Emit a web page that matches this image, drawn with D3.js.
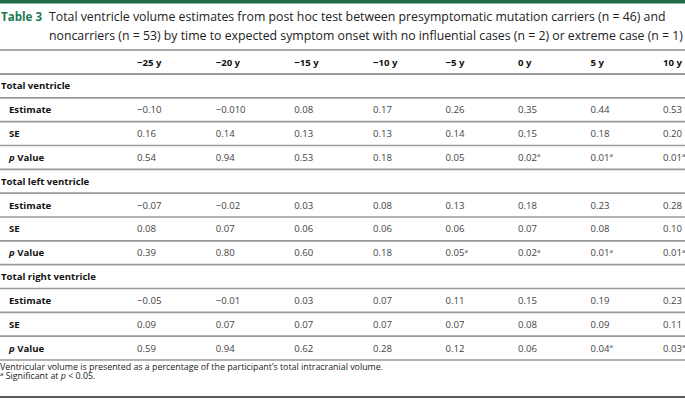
<html>
<head>
  <script src="https://d3js.org/d3.v7.min.js"></script>
  <style>
    body{ margin:0; background:#fff; }
    text{ font-family:"Open Sans", sans-serif; }
  </style>
</head>
<body>
<script>
var width = 685,
    height = 403;

// table content
var timepoints = ["\u221225 y", "\u221220 y", "\u221215 y", "\u221210 y", "\u22125 y", "0 y", "5 y", "10 y"];
var sections = ["Total ventricle", "Total left ventricle", "Total right ventricle"];
var rowLabels = ["Estimate", "SE", "p Value"];

var totalEstimate = ["\u22120.10", "\u22120.010", "0.08", "0.17", "0.26", "0.35", "0.44", "0.53"];
var totalSE       = ["0.16", "0.14", "0.13", "0.13", "0.14", "0.15", "0.18", "0.20"];
var totalP        = ["0.54", "0.94", "0.53", "0.18", "0.05", "0.02", "0.01", "0.01"];
var totalSig      = [false, false, false, false, false, true, true, true];

var leftEstimate = ["\u22120.07", "\u22120.02", "0.03", "0.08", "0.13", "0.18", "0.23", "0.28"];
var leftSE       = ["0.08", "0.07", "0.06", "0.06", "0.06", "0.07", "0.08", "0.10"];
var leftP        = ["0.39", "0.80", "0.60", "0.18", "0.05", "0.02", "0.01", "0.01"];
var leftSig      = [false, false, false, false, true, true, true, true];

var rightEstimate = ["\u22120.05", "\u22120.01", "0.03", "0.07", "0.11", "0.15", "0.19", "0.23"];
var rightSE       = ["0.09", "0.07", "0.07", "0.07", "0.07", "0.08", "0.09", "0.11"];
var rightP        = ["0.59", "0.94", "0.62", "0.28", "0.12", "0.06", "0.04", "0.03"];
var rightSig      = [false, false, false, false, false, false, true, true];

var titleLine1 = "Total ventricle volume estimates from post hoc test between presymptomatic mutation carriers (n = 46) and";
var titleLine2 = "noncarriers (n = 53) by time to expected symptom onset with no influential cases (n = 2) or extreme case (n = 1)";
var footnote1 = "Ventricular volume is presented as a percentage of the participant\u2019s total intracranial volume.";

// build the rows
var blocks = [
  [totalEstimate, totalSE, totalP, totalSig],
  [leftEstimate, leftSE, leftP, leftSig],
  [rightEstimate, rightSE, rightP, rightSig]
];
var rows = [];
sections.forEach(function(s, i){
  rows.push({ type: "section", label: s });
  rows.push({ type: "value", label: rowLabels[0], values: blocks[i][0] });
  rows.push({ type: "value", label: rowLabels[1], values: blocks[i][1] });
  rows.push({ type: "value", label: rowLabels[2], values: blocks[i][2], sig: blocks[i][3] });
});

var svg = d3.select("body")
  .append("svg")
  .attr("width", width)
  .attr("height", height);

// scales
var x = d3.scaleLinear()
  .domain([0, 3, 7])
  .range([137, 373, 663]);

var y = d3.scaleLinear()
  .domain([0, rows.length])
  .range([74, 360]);

// top bar + title
svg.append("rect")
  .attr("x", 0).attr("y", 0)
  .attr("width", width).attr("height", 3.5)
  .attr("fill", "#216b4c");

var title = svg.append("g").attr("font-size", 12.3).attr("fill", "#222");
title.append("text")
  .attr("x", 1).attr("y", 21)
  .attr("font-weight", "bold")
  .attr("fill", "#1d7a55")
  .attr("font-size", 11.6)
  .text("Table 3");
title.append("text")
  .attr("x", 49).attr("y", 21)
  .text(titleLine1);
title.append("text")
  .attr("x", 49).attr("y", 40)
  .text(titleLine2);

svg.append("line")
  .attr("x1", 0).attr("x2", width)
  .attr("y1", 50).attr("y2", 50)
  .attr("stroke", "#555").attr("stroke-width", 1.2);

// header
svg.append("g")
  .selectAll("text")
  .data(timepoints)
  .enter()
  .append("text")
  .attr("x", function(d, i){ return x(i); })
  .attr("y", 66)
  .attr("font-size", 9.6)
  .attr("font-weight", "bold")
  .attr("fill", "#111")
  .text(function(d){ return d; });

svg.append("line")
  .attr("x1", 0).attr("x2", width)
  .attr("y1", y(0)).attr("y2", y(0))
  .attr("stroke", "#777").attr("stroke-width", 1.3);

// row separators
svg.append("g")
  .selectAll("line")
  .data(d3.range(1, rows.length + 1))
  .enter()
  .append("line")
  .attr("x1", 0).attr("x2", width)
  .attr("y1", function(d){ return y(d); })
  .attr("y2", function(d){ return y(d); })
  .attr("stroke", "#9a9a9a")
  .attr("stroke-width", 1.6);

// row labels
var rowG = svg.append("g")
  .selectAll("g")
  .data(rows)
  .enter()
  .append("g")
  .attr("transform", function(d, i){ return "translate(0," + ((y(i) + y(i + 1)) / 2 + 3.5) + ")"; });

rowG.append("text")
  .attr("x", function(d){ return d.type == "section" ? 1 : 9; })
  .attr("font-size", 9.6)
  .attr("font-weight", "bold")
  .attr("fill", "#111")
  .each(function(d){
    var t = d3.select(this);
    if (d.label == "p Value") {
      t.append("tspan").attr("font-style", "italic").text("p");
      t.append("tspan").text(" Value");
    } else {
      t.text(d.label);
    }
  });

rowG.filter(function(d){ return d.type == "value"; })
  .selectAll("text.val")
  .data(function(d){
    return d.values.map(function(v, i){ return { v: v, i: i, sig: d.sig ? d.sig[i] : false }; });
  })
  .enter()
  .append("text")
  .attr("class", "val")
  .attr("x", function(d){ return x(d.i); })
  .attr("font-size", 9.6)
  .attr("fill", "#444")
  .each(function(d){
    var t = d3.select(this);
    t.append("tspan").text(d.v);
    if (d.sig) {
      t.append("tspan").attr("font-size", 6).attr("dy", -3.5).text("a");
    }
  });

// footnotes
var foot = svg.append("g").attr("font-size", 8.85).attr("fill", "#222");
foot.append("text")
  .attr("x", 0).attr("y", 369.5)
  .text(footnote1);
var f2 = foot.append("text").attr("x", 0).attr("y", 379);
f2.append("tspan").attr("font-size", 6).attr("dy", -3).text("a");
f2.append("tspan").attr("dy", 3).text(" Significant at ");
f2.append("tspan").attr("font-style", "italic").text("p");
f2.append("tspan").text(" < 0.05.");

svg.append("line")
  .attr("x1", 0).attr("x2", width)
  .attr("y1", 397).attr("y2", 397)
  .attr("stroke", "#222").attr("stroke-width", 1.5);
</script>
</body>
</html>
